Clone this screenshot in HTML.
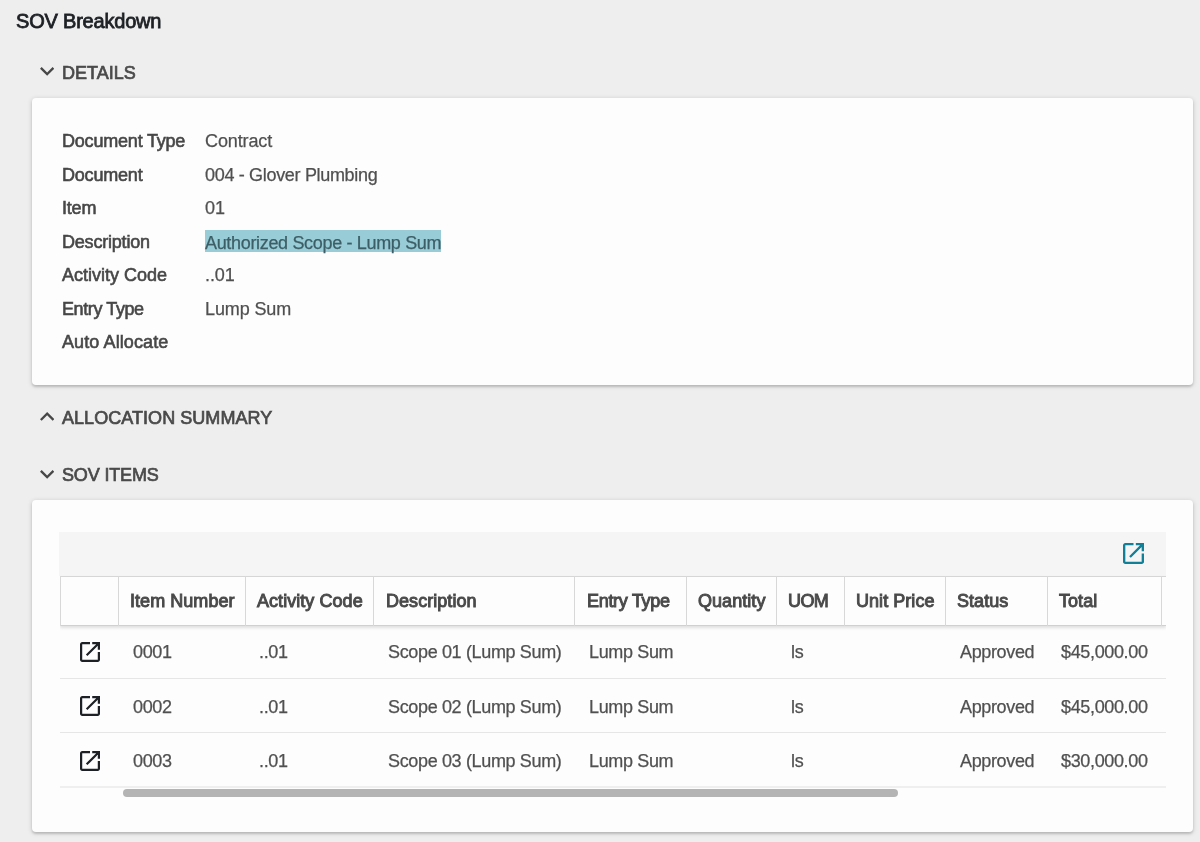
<!DOCTYPE html>
<html><head><meta charset="utf-8">
<style>
*{box-sizing:border-box;margin:0;padding:0}
html,body{width:1200px;height:842px;overflow:hidden;background:#eeeeee;font-family:"Liberation Sans",sans-serif;}
.a{position:absolute;white-space:nowrap;line-height:20px;will-change:transform}
.title{left:16px;top:11px;font-size:20px;color:#1d2125;-webkit-text-stroke:0.8px #1d2125;letter-spacing:-0.2px}
.sec{left:62px;font-size:18px;color:#4a4a4a;-webkit-text-stroke:0.7px #4a4a4a}
.chev{position:absolute;left:39.9px;width:14.3px;height:8.8px}
.card{position:absolute;left:32px;width:1161px;background:#fdfdfd;border-radius:4px;box-shadow:0 2px 2px 0 rgba(0,0,0,.12),0 1px 5px 0 rgba(0,0,0,.18)}
.lbl{left:62px;font-size:18px;color:#474747;-webkit-text-stroke:0.6px #474747;letter-spacing:-0.2px}
.val{left:205px;font-size:18px;color:#505050;letter-spacing:-0.12px;-webkit-text-stroke:0.25px #505050}
.hl{background:#98ccd6;color:#3d5e66;-webkit-text-stroke-color:#3d5e66;padding:2.5px 0 0}
.tb{position:absolute;left:59px;top:532px;width:1107px;height:44px;background:#f5f5f5}
.hdr{position:absolute;left:60px;top:576px;width:1106px;height:50px;border-top:1px solid #d6d6d6;border-bottom:1px solid #d0d0d0;box-shadow:0 2px 3px rgba(0,0,0,.12);background:#fdfdfd}
.vb{position:absolute;top:576px;width:1px;height:50px;background:#d8d8d8}
.th{font-size:18px;color:#4a4a4a;-webkit-text-stroke:0.95px #4a4a4a;letter-spacing:0.05px}
.td{font-size:18px;color:#505050;letter-spacing:-0.35px;-webkit-text-stroke:0.25px #505050}
.rl{position:absolute;left:60px;width:1106px;height:1px;background:#e6e6e6}
.ic{position:absolute;width:20px;height:20px}
</style></head><body>
<div class="a title">SOV Breakdown</div>

<svg class="chev" style="top:67.3px" viewBox="240 -640 480 296"><path fill="#474747" d="M480-344 240-584l56-56 184 184 184-184 56 56-240 240Z"/></svg>
<div class="a sec" style="top:62.5px">DETAILS</div>

<div class="card" style="top:98px;height:287px"></div>
<div class="a lbl" style="top:130.7px">Document Type</div><div class="a val" style="top:130.7px">Contract</div>
<div class="a lbl" style="top:164.7px">Document</div><div class="a val" style="top:164.7px;letter-spacing:-0.32px">004 - Glover Plumbing</div>
<div class="a lbl" style="top:197.7px">Item</div><div class="a val" style="top:197.7px">01</div>
<div class="a lbl" style="top:231.7px">Description</div><div class="a val" style="top:231.7px;letter-spacing:-0.33px"><span class="hl">Authorized Scope - Lump Sum</span></div>
<div class="a lbl" style="top:264.7px;letter-spacing:0px">Activity Code</div><div class="a val" style="top:264.7px">..01</div>
<div class="a lbl" style="top:298.7px;letter-spacing:-0.4px">Entry Type</div><div class="a val" style="top:298.7px">Lump Sum</div>
<div class="a lbl" style="top:331.7px;letter-spacing:0.1px">Auto Allocate</div>

<svg class="chev" style="top:411.8px" viewBox="240 -640 480 296"><path fill="#474747" d="M480-528 296-344l-56-56 240-240 240 240-56 56-184-184Z"/></svg>
<div class="a sec" style="top:407.5px;letter-spacing:0.05px">ALLOCATION SUMMARY</div>

<svg class="chev" style="top:469.9px" viewBox="240 -640 480 296"><path fill="#474747" d="M480-344 240-584l56-56 184 184 184-184 56 56-240 240Z"/></svg>
<div class="a sec" style="top:464.5px;letter-spacing:-0.15px">SOV ITEMS</div>

<div class="card" style="top:500px;height:332px"></div>
<div class="tb"></div>
<svg class="ic" style="left:1123px;top:543.3px;width:21px;height:21px" viewBox="120 -840 720 720"><path fill="#117f96" d="M200-120q-33 0-56.5-23.5T120-200v-560q0-33 23.5-56.5T200-840h280v80H200v560h560v-280h80v280q0 33-23.5 56.5T760-120H200Zm188-212-56-56 372-372H560v-80h280v280h-80v-144L388-332Z"/></svg>
<div style="position:absolute;left:60px;top:570px;width:1106px;height:64px;overflow:hidden"><div class="hdr" style="left:0;top:6px"></div></div>
<div class="vb" style="left:60px"></div>
<div class="vb" style="left:118px"></div>
<div class="vb" style="left:245px"></div>
<div class="vb" style="left:373px"></div>
<div class="vb" style="left:574px"></div>
<div class="vb" style="left:686px"></div>
<div class="vb" style="left:776px"></div>
<div class="vb" style="left:844px"></div>
<div class="vb" style="left:945px"></div>
<div class="vb" style="left:1047px"></div>
<div class="vb" style="left:1161px"></div>

<div class="a th" style="left:130px;top:591px">Item Number</div>
<div class="a th" style="left:257px;top:591px">Activity Code</div>
<div class="a th" style="left:386px;top:591px">Description</div>
<div class="a th" style="left:587px;top:591px;letter-spacing:-0.3px">Entry Type</div>
<div class="a th" style="left:698px;top:591px">Quantity</div>
<div class="a th" style="left:788px;top:591px;letter-spacing:-0.6px">UOM</div>
<div class="a th" style="left:856px;top:591px">Unit Price</div>
<div class="a th" style="left:957px;top:591px">Status</div>
<div class="a th" style="left:1059px;top:591px">Total</div>

<div class="rl" style="top:678px"></div>
<div class="rl" style="top:732px"></div>
<div class="rl" style="top:786px;height:2px;background:#efefef"></div>

<svg class="ic" style="left:79.5px;top:642px" viewBox="120 -840 720 720"><path fill="#1d2125" d="M200-120q-33 0-56.5-23.5T120-200v-560q0-33 23.5-56.5T200-840h280v80H200v560h560v-280h80v280q0 33-23.5 56.5T760-120H200Zm188-212-56-56 372-372H560v-80h280v280h-80v-144L388-332Z"/></svg>
<div class="a td" style="left:133px;top:642px">0001</div>
<div class="a td" style="left:259px;top:642px">..01</div>
<div class="a td" style="left:388px;top:642px">Scope 01 (Lump Sum)</div>
<div class="a td" style="left:589px;top:642px">Lump Sum</div>
<div class="a td" style="left:791px;top:642px">ls</div>
<div class="a td" style="left:960px;top:642px">Approved</div>
<div class="a td" style="left:1061px;top:642px">$45,000.00</div>
<svg class="ic" style="left:79.5px;top:696px" viewBox="120 -840 720 720"><path fill="#1d2125" d="M200-120q-33 0-56.5-23.5T120-200v-560q0-33 23.5-56.5T200-840h280v80H200v560h560v-280h80v280q0 33-23.5 56.5T760-120H200Zm188-212-56-56 372-372H560v-80h280v280h-80v-144L388-332Z"/></svg>
<div class="a td" style="left:133px;top:697px">0002</div>
<div class="a td" style="left:259px;top:697px">..01</div>
<div class="a td" style="left:388px;top:697px">Scope 02 (Lump Sum)</div>
<div class="a td" style="left:589px;top:697px">Lump Sum</div>
<div class="a td" style="left:791px;top:697px">ls</div>
<div class="a td" style="left:960px;top:697px">Approved</div>
<div class="a td" style="left:1061px;top:697px">$45,000.00</div>
<svg class="ic" style="left:79.5px;top:751px" viewBox="120 -840 720 720"><path fill="#1d2125" d="M200-120q-33 0-56.5-23.5T120-200v-560q0-33 23.5-56.5T200-840h280v80H200v560h560v-280h80v280q0 33-23.5 56.5T760-120H200Zm188-212-56-56 372-372H560v-80h280v280h-80v-144L388-332Z"/></svg>
<div class="a td" style="left:133px;top:751px">0003</div>
<div class="a td" style="left:259px;top:751px">..01</div>
<div class="a td" style="left:388px;top:751px">Scope 03 (Lump Sum)</div>
<div class="a td" style="left:589px;top:751px">Lump Sum</div>
<div class="a td" style="left:791px;top:751px">ls</div>
<div class="a td" style="left:960px;top:751px">Approved</div>
<div class="a td" style="left:1061px;top:751px">$30,000.00</div>
<div style="position:absolute;left:123px;top:789px;width:775px;height:8px;border-radius:4px;background:#b4b4b4"></div>
</body></html>
